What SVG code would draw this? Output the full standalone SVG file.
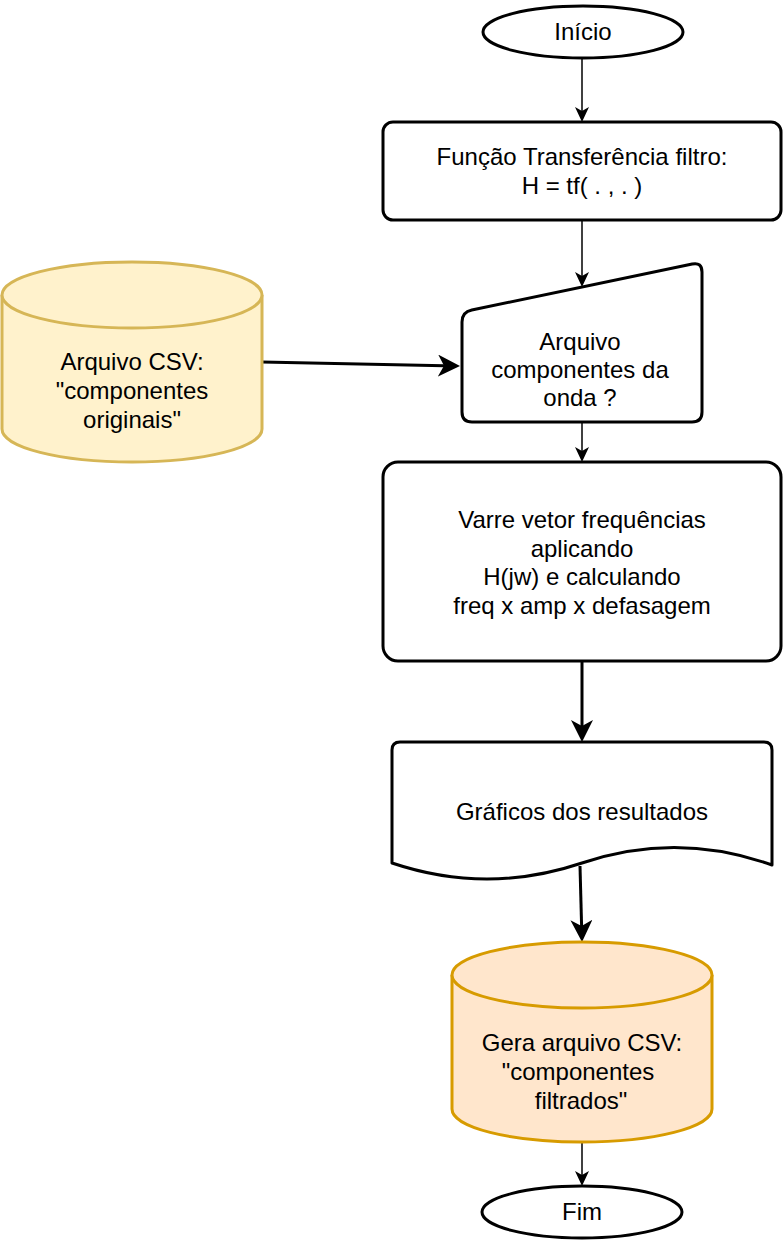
<svg xmlns="http://www.w3.org/2000/svg" width="784" height="1244" viewBox="0 0 784 1244">
<style>
.s{fill:#fff;stroke:#000;stroke-width:3;stroke-linejoin:round}
.c1{fill:#fff2cc;stroke:#d6b656;stroke-width:3}
.c2{fill:#ffe6cc;stroke:#d79b00;stroke-width:3}
.t{font-family:"Liberation Sans",Arial,Helvetica,sans-serif;font-size:24px;text-anchor:middle;fill:#000}
.thin{fill:none;stroke:#000;stroke-width:1.5}
.thick{fill:none;stroke:#000;stroke-width:3}
</style>
<defs>
<marker id="aThin" markerUnits="userSpaceOnUse" viewBox="0 0 15 14" markerWidth="15" markerHeight="14" refX="4" refY="7" orient="auto">
<path d="M0,0 L15,7 L0,14 L4,7 Z" fill="#000"/>
</marker>
<marker id="aThick" markerUnits="userSpaceOnUse" viewBox="0 0 22 22" markerWidth="22" markerHeight="22" refX="6" refY="11" orient="auto">
<path d="M0,0 L22,11 L0,22 L6,11 Z" fill="#000"/>
</marker>
</defs>
<rect width="784" height="1244" fill="#fff"/>
<g id="connectors">
<path class="thin" d="M582,59 L582,111" marker-end="url(#aThin)"/>
<path class="thin" d="M582,220 L582,276" marker-end="url(#aThin)"/>
<path class="thick" d="M262,362 L444,365.7" marker-end="url(#aThick)"/>
<path class="thin" d="M582,422 L582,451" marker-end="url(#aThin)"/>
<path class="thick" d="M582,662 L582,726" marker-end="url(#aThick)"/>
<path class="thick" d="M580,866 L581.6,926" marker-end="url(#aThick)"/>
<path class="thin" d="M582,1142 L582,1175" marker-end="url(#aThin)"/>
</g>
<g id="inicio">
<ellipse class="s" cx="583" cy="32" rx="100" ry="26"/>
<text class="t" x="583" y="40">Início</text>
</g>
<g id="funcao">
<rect class="s" x="383" y="122" width="398" height="98" rx="10"/>
<text class="t" x="582" y="165">Função Transferência filtro:</text>
<text class="t" x="582" y="194">H = tf( . , . )</text>
</g>
<g id="csv-originais">
<path class="c1" d="M2,295 A130,33 0 0 1 262,295 L262,429 A130,33 0 0 1 2,429 Z"/>
<path class="c1" d="M2,295 A130,33 0 0 0 262,295" fill="none"/>
<text class="t" x="132" y="370">Arquivo CSV:</text>
<text class="t" x="132" y="399">"componentes</text>
<text class="t" x="132" y="428">originais"</text>
</g>
<g id="arquivo-componentes">
<path class="s" d="M462,322 Q462,312 471.8,310 L692.2,264 Q702,262 702,272 L702,412 Q702,422 692,422 L472,422 Q462,422 462,412 Z"/>
<text class="t" x="580" y="350">Arquivo</text>
<text class="t" x="580" y="378">componentes da</text>
<text class="t" x="580" y="406">onda ?</text>
</g>
<g id="varre">
<rect class="s" x="383" y="462" width="398" height="199" rx="15"/>
<text class="t" x="582" y="528">Varre vetor frequências</text>
<text class="t" x="582" y="557">aplicando</text>
<text class="t" x="582" y="585">H(jw) e calculando</text>
<text class="t" x="582" y="614">freq x amp x defasagem</text>
</g>
<g id="graficos">
<path class="s" d="M392,863 L392,750 Q392,742 400,742 L764,742 Q772,742 772,750 L772,865 Q677,831 582,863 Q487,895 392,863 Z"/>
<text class="t" x="582" y="820">Gráficos dos resultados</text>
</g>
<g id="csv-filtrados">
<path class="c2" d="M452,975 A130,33 0 0 1 712,975 L712,1109 A130,33 0 0 1 452,1109 Z"/>
<path class="c2" d="M452,975 A130,33 0 0 0 712,975" fill="none"/>
<text class="t" x="582" y="1051">Gera arquivo CSV:</text>
<text class="t" x="578" y="1080">"componentes</text>
<text class="t" x="581" y="1109">filtrados"</text>
</g>
<g id="fim">
<ellipse class="s" cx="582" cy="1212" rx="100" ry="26"/>
<text class="t" x="582" y="1220">Fim</text>
</g>
</svg>
